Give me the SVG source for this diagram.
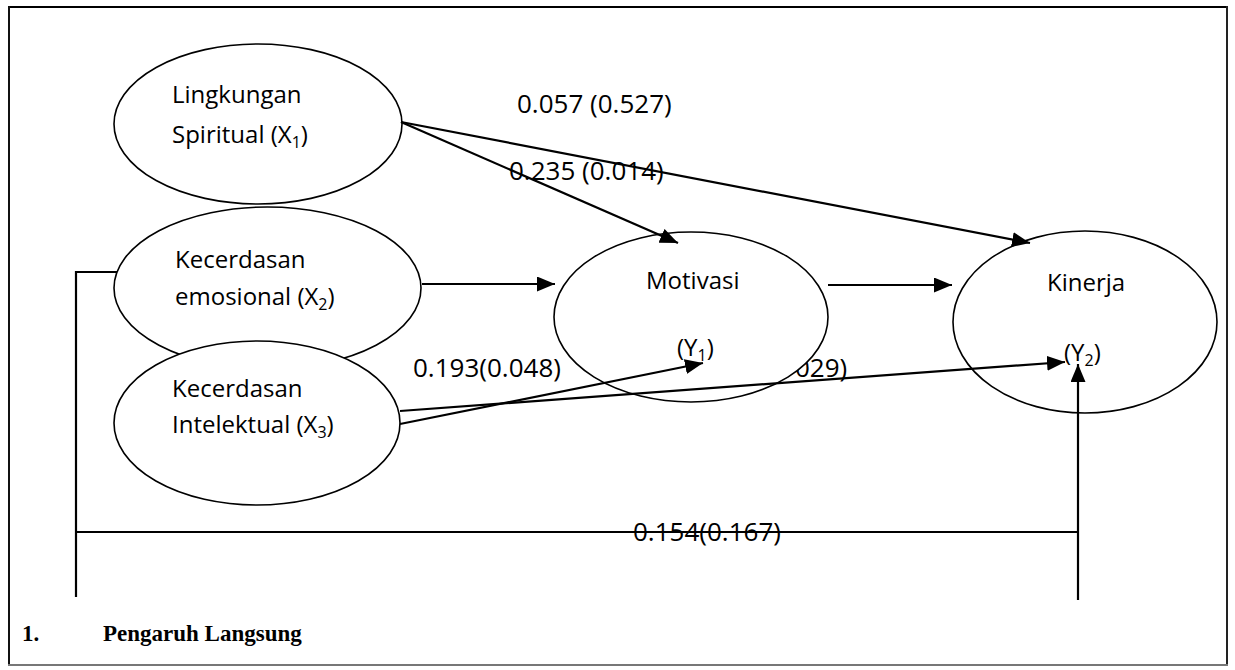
<svg xmlns="http://www.w3.org/2000/svg" width="1235" height="670" viewBox="0 0 1235 670">
<style>
.node ellipse{fill:#fff;stroke:#000;stroke-width:1.6}
.t{font-family:"Open Sans","DejaVu Sans",sans-serif;font-size:24px;fill:#000}
.lbl{font-family:"Open Sans","DejaVu Sans",sans-serif;font-size:26px;fill:#000}
.sub{font-size:16px}
.conn line,.conn polyline{stroke:#000;stroke-width:2.2;fill:none}
.title{font-family:"Liberation Serif","Times New Roman",serif;font-weight:bold;font-size:23px;fill:#000}
</style>
<defs>
<marker id="ah" markerUnits="userSpaceOnUse" markerWidth="19" markerHeight="15" refX="18" refY="7.5" orient="auto">
<path d="M0,0 L18,7.5 L0,15 z" fill="#000"/>
</marker>
</defs>
<rect x="0" y="0" width="1235" height="670" fill="#fff"/>
<g id="frame">
<line x1="8" y1="7" x2="1228" y2="7" stroke="#000" stroke-width="2"/>
<line x1="9" y1="6" x2="9" y2="665" stroke="#111" stroke-width="2"/>
<line x1="1227" y1="6" x2="1227" y2="665" stroke="#222" stroke-width="2"/>
<line x1="8" y1="665" x2="1228" y2="665" stroke="#777" stroke-width="2"/>
</g>
<g id="labels">
<text class="lbl" x="517" y="113">0.057 (0.527)</text>
<text class="lbl" x="509" y="180">0.235 (0.014)</text>
<text class="lbl" x="413" y="377">0.193(0.048)</text>
<text class="lbl" x="795" y="377">029)</text>
<text class="lbl" x="633" y="541">0.154(0.167)</text>
</g>
<g id="x1" class="node">
<ellipse cx="258" cy="124" rx="144" ry="80"/>
<text class="t" x="172" y="103">Lingkungan</text>
<text class="t" x="172" y="143">Spiritual (X<tspan class="sub" dy="5">1</tspan><tspan dy="-5">)</tspan></text>
</g>
<g id="x2" class="node">
<ellipse cx="267.5" cy="288" rx="153.5" ry="81"/>
<text class="t" x="175" y="268">Kecerdasan</text>
<text class="t" x="175" y="305">emosional (X<tspan class="sub" dy="5">2</tspan><tspan dy="-5">)</tspan></text>
</g>
<g id="x3" class="node">
<ellipse cx="257" cy="423" rx="143" ry="82"/>
<text class="t" x="172" y="397">Kecerdasan</text>
<text class="t" x="172" y="433">Intelektual (X<tspan class="sub" dy="5">3</tspan><tspan dy="-5">)</tspan></text>
</g>
<g id="y1" class="node">
<ellipse cx="691" cy="317" rx="137" ry="85"/>
<text class="t" x="646" y="289">Motivasi</text>
<text class="t" x="677" y="356">(Y<tspan class="sub" dy="5">1</tspan><tspan dy="-5">)</tspan></text>
</g>
<g id="y2" class="node">
<ellipse cx="1085" cy="322" rx="132" ry="91"/>
<text class="t" x="1047" y="291">Kinerja</text>
<text class="t" x="1064" y="361">(Y<tspan class="sub" dy="5">2</tspan><tspan dy="-5">)</tspan></text>
</g>
<g id="connectors" class="conn">
<line x1="401" y1="122" x2="1030" y2="243" marker-end="url(#ah)"/>
<line x1="401" y1="122" x2="678" y2="243" marker-end="url(#ah)"/>
<line x1="422" y1="284" x2="555" y2="284" marker-end="url(#ah)"/>
<line x1="828" y1="285" x2="952" y2="285" marker-end="url(#ah)"/>
<line x1="400" y1="424" x2="703" y2="363" marker-end="url(#ah)"/>
<line x1="400" y1="411" x2="1065" y2="362" marker-end="url(#ah)"/>
<polyline points="117,272 76,272 76,597"/>
<line x1="76" y1="532" x2="1078" y2="532"/>
<line x1="1078" y1="600" x2="1078" y2="364" marker-end="url(#ah)"/>
</g>
<g id="title">
<text class="title" x="22" y="641">1.</text>
<text class="title" x="103" y="641">Pengaruh Langsung</text>
</g>
</svg>
